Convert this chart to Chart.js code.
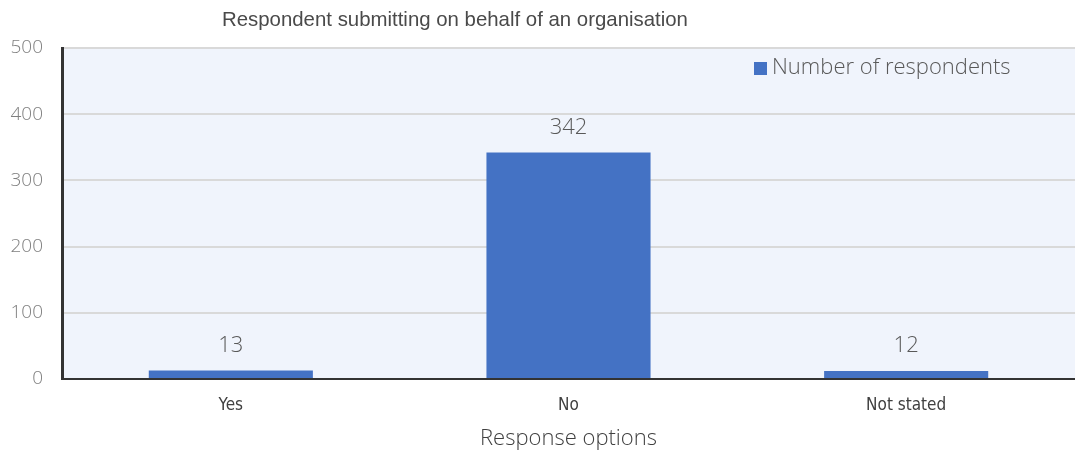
<!DOCTYPE html>
<html>
<head>
<meta charset="utf-8">
<title>Respondent submitting on behalf of an organisation</title>
<script src="https://cdn.jsdelivr.net/npm/chart.js@4.4.1/dist/chart.umd.min.js"></script>
<style>
  html, body { margin: 0; padding: 0; background: #fff; }
  #wrap { width: 1075px; height: 452px; position: relative; }
</style>
</head>
<body>
<div id="wrap"><canvas id="orgChart"></canvas></div>
<script>
const chartTitle = 'Respondent submitting on behalf of an organisation';
const categories = ['Yes', 'No', 'Not stated'];
const respondents = [13, 342, 12];
const seriesLabel = 'Number of respondents';
const axisTitle = 'Response options';
const yTicks = [0, 100, 200, 300, 400, 500];

const barColor = '#4472C4';
const textGrey = '#595959';
const lightFont = '"Open Sans", "Noto Sans", sans-serif';

// light blue fill behind the plot
const plotBackground = {
  id: 'plotBackground',
  beforeDraw(chart) {
    const { ctx, chartArea: a } = chart;
    ctx.save();
    ctx.fillStyle = '#F0F4FC';
    ctx.fillRect(a.left, a.top, a.right - a.left, a.bottom - a.top);
    ctx.restore();
  }
};

// chart title, value labels above the bars and the legend inside the plot
const overlays = {
  id: 'overlays',
  afterDraw(chart) {
    const { ctx } = chart;
    ctx.save();

    ctx.fillStyle = '#4a4a4a';
    ctx.font = '20.4px "Liberation Sans", Arial, sans-serif';
    ctx.textAlign = 'left';
    ctx.textBaseline = 'middle';
    ctx.fillText(chartTitle, 222, 20);

    const meta = chart.getDatasetMeta(0);
    ctx.fillStyle = textGrey;
    ctx.font = '300 22px ' + lightFont;
    ctx.textAlign = 'center';
    ctx.textBaseline = 'middle';
    meta.data.forEach((bar, i) => {
      ctx.fillText(String(chart.data.datasets[0].data[i]), bar.x, bar.y - 25);
    });

    const ds = chart.data.datasets[0];
    ctx.fillStyle = ds.backgroundColor;
    ctx.fillRect(754, 62, 13, 13);
    ctx.fillStyle = textGrey;
    ctx.textAlign = 'left';
    ctx.fillText(ds.label, 772, 68);

    ctx.restore();
  }
};

const ctx = document.getElementById('orgChart').getContext('2d');
new Chart(ctx, {
  type: 'bar',
  data: {
    labels: categories,
    datasets: [{
      label: seriesLabel,
      data: respondents,
      backgroundColor: barColor,
      barPercentage: 0.486,
      categoryPercentage: 1.0
    }]
  },
  options: {
    responsive: true,
    maintainAspectRatio: false,
    animation: false,
    layout: { padding: { top: 48, right: 0, left: 0, bottom: 0 } },
    plugins: {
      legend: { display: false },
      title: { display: false },
      tooltip: { enabled: false }
    },
    scales: {
      x: {
        grid: { display: false },
        border: { display: true, color: '#333333', width: 2 },
        ticks: {
          color: '#404040',
          padding: 8,
          font: { family: '"DejaVu Sans Condensed", "Liberation Sans", Arial, sans-serif', size: 17 }
        },
        title: {
          display: true,
          text: axisTitle,
          color: '#404040',
          padding: { top: 0, bottom: 0 },
          font: { family: lightFont, size: 22, weight: '300' }
        },
        afterFit(scale) { scale.height = 73; }
      },
      y: {
        min: 0,
        max: 500,
        afterBuildTicks(scale) { scale.ticks = yTicks.map(v => ({ value: v })); },
        grid: { color: '#D9D9D9', lineWidth: 2, drawTicks: false },
        border: { display: true, color: '#333333', width: 3 },
        ticks: {
          color: '#7F7F7F',
          padding: 19,
          font: { family: lightFont, size: 19, weight: '300' }
        },
        afterFit(scale) { scale.width = 62; }
      }
    }
  },
  plugins: [plotBackground, overlays]
});
</script>
</body>
</html>
